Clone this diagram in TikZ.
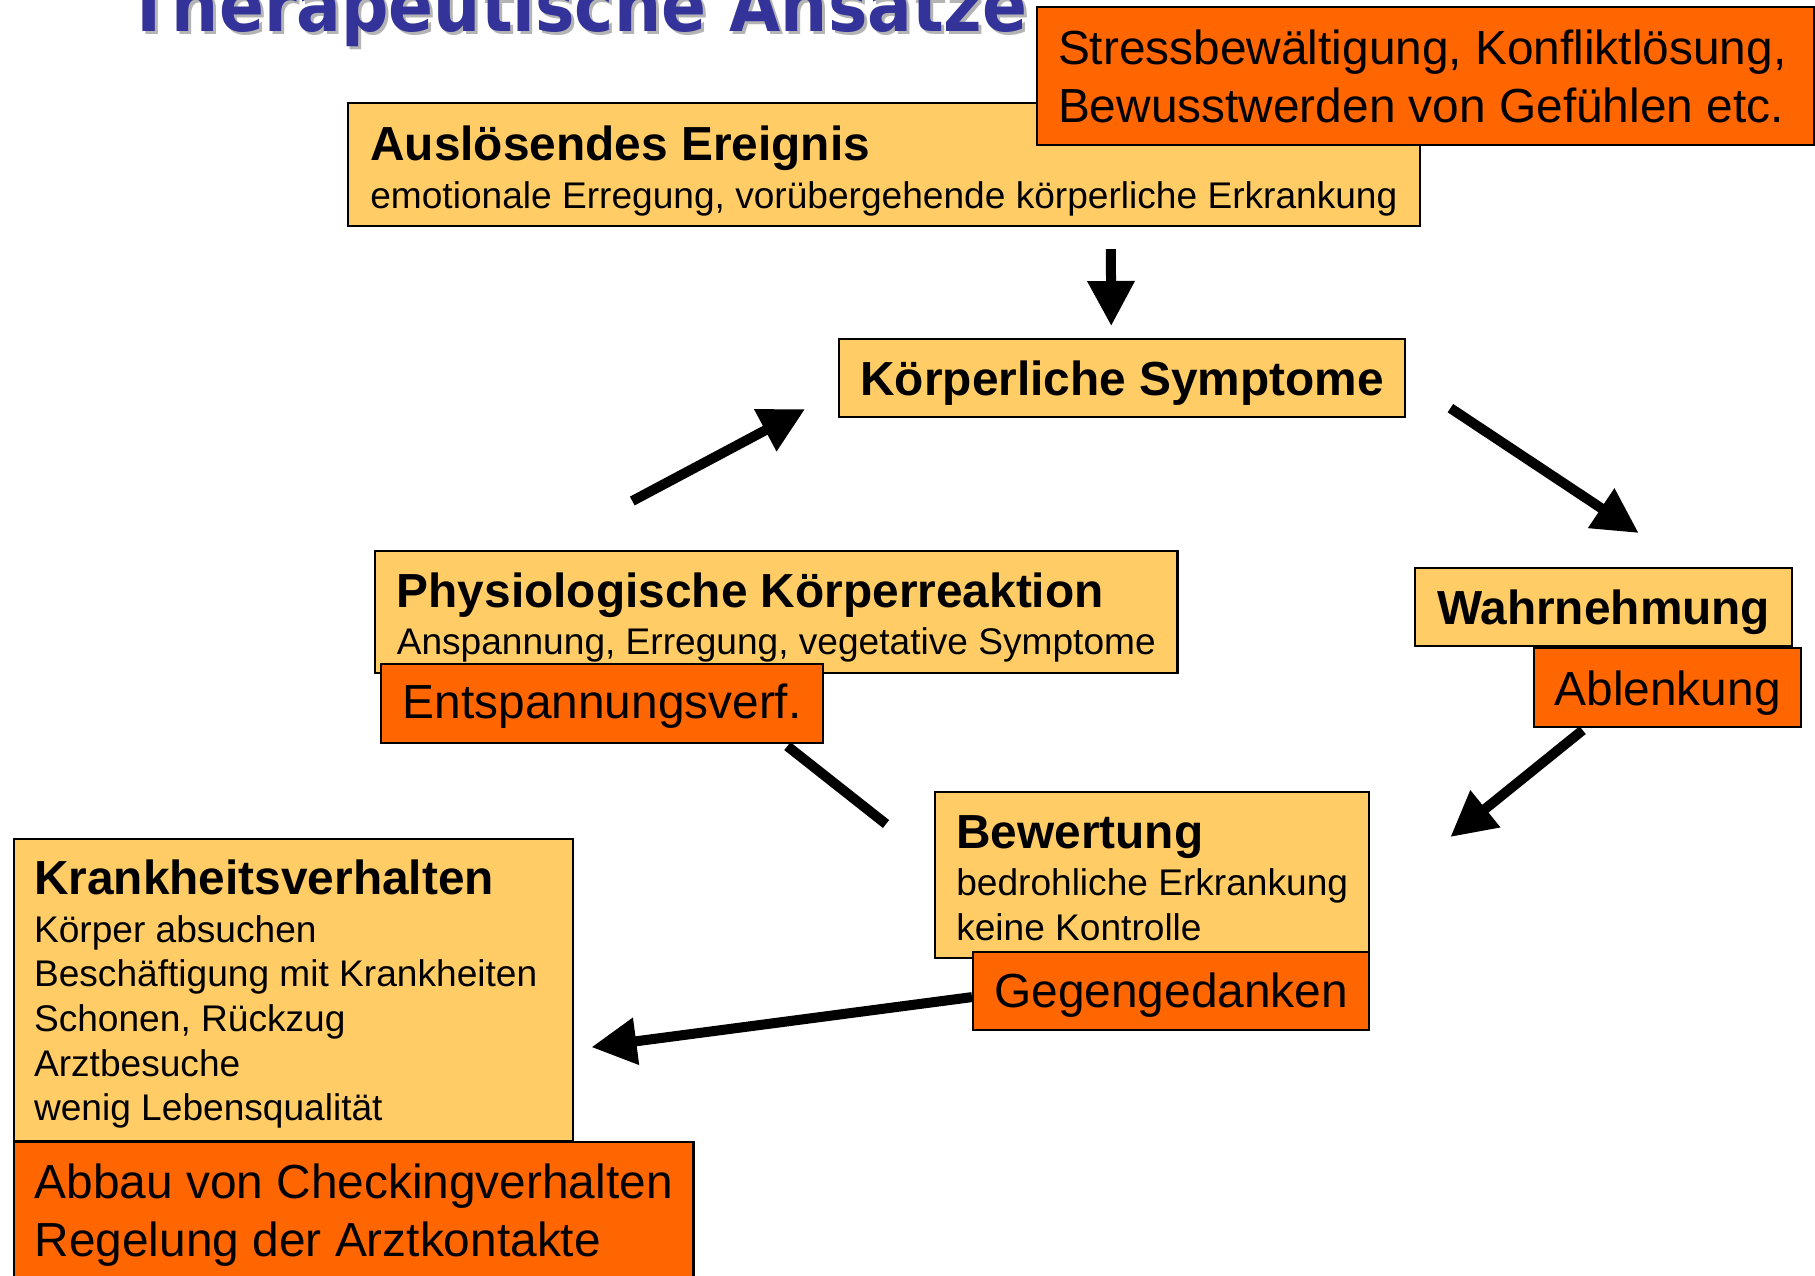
\documentclass[tikz,border=0pt]{standalone}
\usepackage{fontspec}
\setmainfont{Liberation Sans}
\newfontfamily\titelschrift[FakeStretch=0.902]{DejaVu Sans}
\usetikzlibrary{arrows.meta}

\definecolor{kastengelb}{HTML}{FFCC66}
\definecolor{ansatzrot}{HTML}{FF6600}
\definecolor{titelblau}{HTML}{333399}
\definecolor{titelgrau}{HTML}{B4B4B4}

\newcommand{\gross}{\fontsize{13.6}{16.5}\selectfont}
\newcommand{\klein}{\fontsize{10.55}{12.7}\selectfont}
\newcommand{\oben}[1]{\rule{0pt}{#1}}

\tikzset{
  kasten/.style={draw=black, line width=0.6pt, fill=kastengelb, anchor=north west,
    align=flush left, inner sep=0pt, font=\klein},
  ansatz/.style={draw=black, line width=0.6pt, fill=ansatzrot, anchor=north west,
    align=flush left, inner sep=0pt, font=\gross},
  titeltext/.style={anchor=base west, inner sep=0pt,
    font=\titelschrift\bfseries\fontsize{20.9}{25}\selectfont},
  pfeil/.style={line width=1mm, -{Triangle[length=4.5mm,width=4.5mm]}},
}

\begin{document}
\begin{tikzpicture}[x=0.01cm, y=-0.01cm]
  \useasboundingbox (0,0) rectangle (1815,1275);
  \clip (0,0) rectangle (1815,1275);

  % Titel
  \node[titeltext, text=titelgrau] (titelschatten) at (129,34) {Therapeutische Ansätze};
  \node[titeltext, text=titelblau] (titel) at (126,31) {Therapeutische Ansätze};

  % gelbe Kaesten
  \node[kasten, minimum width=10.71cm, minimum height=1.23cm] (ausl) at (347,102)
    {{\gross\bfseries\oben{13.4pt}Auslösendes Ereignis}\\[0.8pt]emotionale Erregung, vorübergehende körperliche Erkrankung};
  \node[kasten, minimum width=5.66cm, minimum height=0.78cm, font=\gross\bfseries] (koerp) at (838,338)
    {\oben{12.8pt}Körperliche Symptome};
  \node[kasten, minimum width=8.02cm, minimum height=1.22cm] (phys) at (374,550)
    {{\gross\bfseries\oben{12.8pt}Physiologische Körperreaktion}\\[0.8pt]Anspannung, Erregung, vegetative Symptome};
  \node[kasten, minimum width=3.77cm, minimum height=0.78cm, font=\gross\bfseries] (wahr) at (1414,567)
    {\oben{12.8pt}Wahrnehmung};
  \node[kasten, minimum width=4.34cm, minimum height=1.66cm] (bewert) at (934,791)
    {{\gross\bfseries\oben{11.1pt}Bewertung}\\[0.8pt]bedrohliche Erkrankung\\keine Kontrolle};
  \node[kasten, text width=5.19cm, inner xsep=0.2cm, minimum height=3.02cm] (krank) at (13,838)
    {{\gross\bfseries\oben{12.2pt}Krankheitsverhalten}\\[0.8pt]Körper absuchen\\Beschäftigung mit Krankheiten\\Schonen, Rückzug\\Arztbesuche\\wenig Lebensqualität};

  % orange Kaesten (therapeutische Ansaetze)
  \node[ansatz, text width=7.35cm, inner xsep=0.21cm, minimum height=1.38cm] (stress) at (1036,6)
    {Stressbewältigung, Konfliktlösung,\\Bewusstwerden von Gefühlen etc.};
  \node[ansatz, minimum width=4.42cm, minimum height=0.79cm] (entsp) at (380,663) {\oben{11.1pt}Entspannungsverf.};
  \node[ansatz, minimum width=2.67cm, minimum height=0.79cm] (ablenk) at (1533,647) {\oben{12.8pt}Ablenkung};
  \node[ansatz, minimum width=3.96cm, minimum height=0.78cm] (gegen) at (972,951) {\oben{12pt}Gegengedanken};
  \node[ansatz, minimum width=6.79cm, minimum height=1.47cm] (abbau) at (13,1141)
    {Abbau von Checkingverhalten\\Regelung der Arztkontakte};

  % Pfeile
  \draw[pfeil] ([shift={(227,22)}]ausl.south) -- ([shift={(-11,-12)}]koerp.north);
  \draw[pfeil] ([shift={(44,-10)}]koerp.south east) -- ([shift={(35,-34)}]wahr.north);
  \draw[pfeil] ([shift={(-85,2)}]ablenk.south) -- ([shift={(80,46)}]bewert.north east);
  \draw[line width=1mm] ([shift={(-48,33)}]bewert.north west) -- ([shift={(-37,2)}]entsp.south east);
  \draw[pfeil] ([shift={(-144,-49)}]phys.north) -- ([shift={(-33,-9)}]koerp.south west);
  \draw[pfeil] ([shift={(0,6)}]gegen.west) -- ([shift={(17,57)}]krank.east);
\end{tikzpicture}
\end{document}
